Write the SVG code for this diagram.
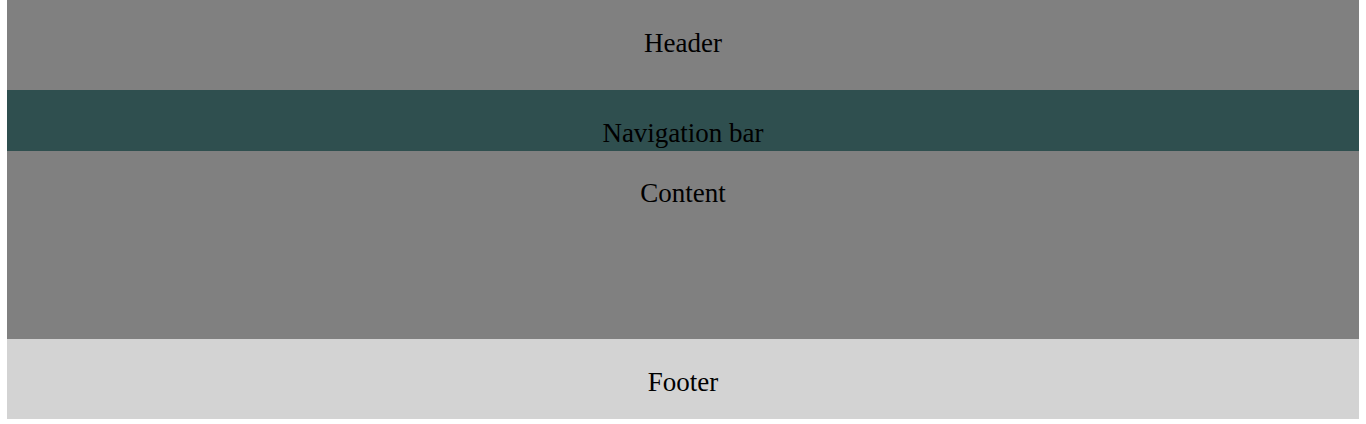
<svg xmlns="http://www.w3.org/2000/svg" width="1366" height="424" viewBox="0 0 1366 424">
<style>
.t{font-family:"Liberation Serif","Times New Roman",serif;font-size:27px;fill:#000;text-anchor:middle}
</style>
<rect width="1366" height="424" fill="#fff"/>
<g id="header"><rect x="7" y="0" width="1352" height="90" fill="#808080"/><text class="t" x="683" y="52">Header</text></g>
<g id="nav"><rect x="7" y="90" width="1352" height="61" fill="#2F4F4F"/><text class="t" x="683" y="142">Navigation bar</text></g>
<g id="content"><rect x="7" y="151" width="1352" height="188" fill="#808080"/><text class="t" x="683" y="202">Content</text></g>
<g id="footer"><rect x="7" y="339" width="1352" height="80" fill="#D3D3D3"/><text class="t" x="683" y="391">Footer</text></g>
<g id="connectors"/>
</svg>
